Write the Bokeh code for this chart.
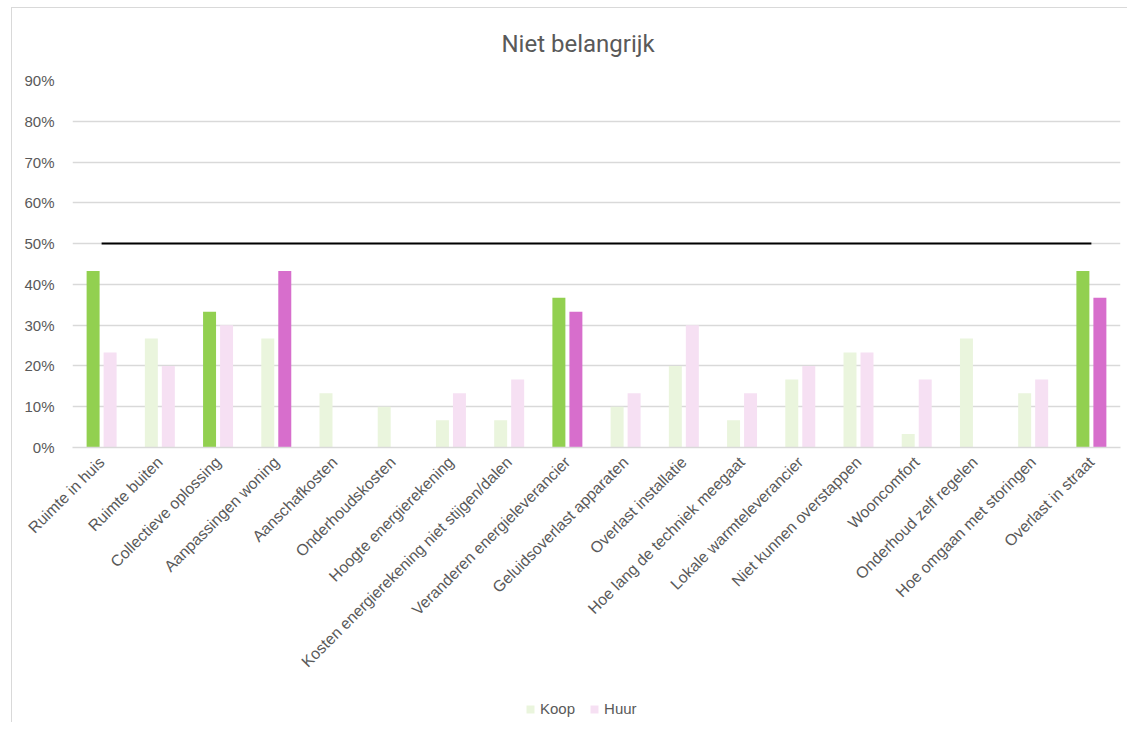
from bokeh.plotting import figure
from bokeh.layouts import column
from bokeh.models import (ColumnDataSource, FactorRange, NumeralTickFormatter, FixedTicker,
                          Legend, LegendItem, Title)
from bokeh.transform import dodge
from bokeh.embed import file_html
from bokeh.resources import INLINE

categories = ["Ruimte in huis", "Ruimte buiten", "Collectieve oplossing", "Aanpassingen woning",
              "Aanschafkosten", "Onderhoudskosten", "Hoogte energierekening",
              "Kosten energierekening niet stijgen/dalen", "Veranderen energieleverancier",
              "Geluidsoverlast apparaten", "Overlast installatie", "Hoe lang de techniek meegaat",
              "Lokale warmteleverancier", "Niet kunnen overstappen", "Wooncomfort",
              "Onderhoud zelf regelen", "Hoe omgaan met storingen", "Overlast in straat"]
koop = [0.433, 0.267, 0.333, 0.267, 0.133, 0.100, 0.067, 0.067, 0.367,
        0.100, 0.200, 0.067, 0.167, 0.233, 0.033, 0.267, 0.133, 0.433]
huur = [0.233, 0.200, 0.300, 0.433, 0.0, 0.0, 0.133, 0.167, 0.333,
        0.133, 0.300, 0.133, 0.200, 0.233, 0.167, 0.0, 0.167, 0.367]
koop_highlight = [True, False, True, False, False, False, False, False, True,
                  False, False, False, False, False, False, False, False, True]
huur_highlight = [False, False, False, True, False, False, False, False, True,
                  False, False, False, False, False, False, False, False, True]
target = [0.5] * 18
y_ticks = [0, 0.1, 0.2, 0.3, 0.4, 0.5, 0.6, 0.7, 0.8, 0.9]
series_names = ["Koop", "Huur"]

KOOP_DARK, KOOP_LIGHT = "#92D050", "#EAF5DD"
HUUR_DARK, HUUR_LIGHT = "#D76ECC", "#F6E0F3"
GRAY = "#595959"
FONT = "Liberation Sans"

src = ColumnDataSource(dict(
    cat=categories, koop=koop, huur=huur,
    kc=[KOOP_DARK if h else KOOP_LIGHT for h in koop_highlight],
    hc=[HUUR_DARK if h else HUUR_LIGHT for h in huur_highlight],
))

p = figure(x_range=FactorRange(*categories), y_range=(0, 0.9),
           width=1116, height=690, output_backend="svg", toolbar_location=None,
           min_border_left=60, min_border_right=8, min_border_top=72, min_border_bottom=251)
p.margin = (7, 0, 0, 11)
p.styles = {"border-left": "1px solid #d9d9d9", "border-top": "1px solid #d9d9d9"}

title = Title(text="Niet belangrijk", align="left", text_font="Roboto",
              text_font_size="24px", text_color=GRAY, text_font_style="normal",
              vertical_align="top", standoff=42, offset=429)
p.add_layout(title, "above")

rk = p.vbar(x=dodge("cat", -0.146, range=p.x_range), top="koop", width=0.223,
            source=src, fill_color="kc", line_color=None)
rh = p.vbar(x=dodge("cat", 0.146, range=p.x_range), top="huur", width=0.223,
            source=src, fill_color="hc", line_color=None)
p.line(x=categories, y=target, line_color="black", line_width=2)

p.outline_line_color = None
p.xgrid.grid_line_color = None
p.ygrid.grid_line_color = "#d9d9d9"
p.ygrid.grid_line_width = 1.3
p.yaxis.ticker = FixedTicker(ticks=y_ticks)
p.yaxis.formatter = NumeralTickFormatter(format="0%")
p.yaxis.axis_line_color = None
p.yaxis.major_tick_line_color = None
p.yaxis.minor_tick_line_color = None
p.yaxis.major_label_standoff = 12
p.xaxis.axis_line_color = "#d9d9d9"
p.xaxis.axis_line_width = 1.3
p.xaxis.major_tick_line_color = None
p.xaxis.minor_tick_line_color = None
p.xaxis.major_label_orientation = 0.785398
p.xaxis.major_label_standoff = 6
for ax in (p.xaxis, p.yaxis):
    ax.major_label_text_color = GRAY
    ax.major_label_text_font = FONT
p.xaxis.major_label_text_font_size = "15.8px"
p.yaxis.major_label_text_font_size = "15px"

# legend strip
p2 = figure(width=1116, height=25, output_backend="svg", toolbar_location=None,
            x_range=(0, 1), y_range=(0, 1), min_border=0)
p2.margin = (0, 0, 0, 11)
p2.styles = {"border-left": "1px solid #d9d9d9"}
p2.axis.visible = False
p2.grid.visible = False
p2.outline_line_color = None
lsrc = ColumnDataSource(dict(x=[0, 0], top=[0, 0], name=series_names,
                             color=[KOOP_LIGHT, HUUR_LIGHT]))
lr = p2.vbar(x="x", top="top", width=0.001, source=lsrc, fill_color="color", line_color=None)
legend = Legend(items=[LegendItem(label=series_names[0], renderers=[lr], index=0),
                       LegendItem(label=series_names[1], renderers=[lr], index=1)],
                orientation="horizontal", location=(453, 5),
                glyph_width=10, glyph_height=10, label_standoff=5, spacing=14,
                label_text_font=FONT, label_text_font_size="15px", label_text_color=GRAY,
                background_fill_alpha=0, border_line_color=None, padding=0, margin=0)
p2.add_layout(legend, "center")

layout = column(p, p2, spacing=0)
open("out.html", "w").write(file_html(layout, INLINE))
